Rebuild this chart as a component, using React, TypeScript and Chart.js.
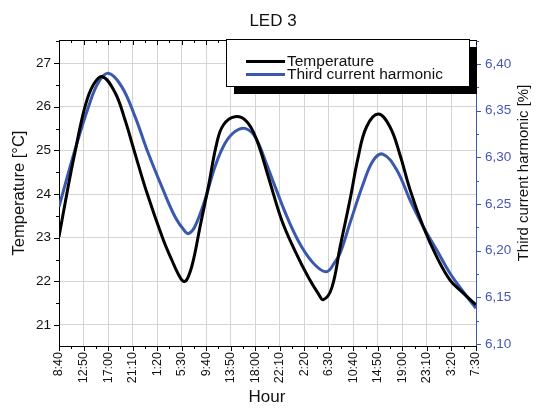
import React, { useEffect, useRef } from "react";
import { Chart, registerables } from "chart.js";

Chart.register(...registerables);

// ---- data ----
const hourLabels = [
  "8:40", "12:50", "17:00", "21:10", "1:20", "5:30", "9:40", "13:50", "18:00",
  "22:10", "2:20", "6:30", "10:40", "14:50", "19:00", "23:10", "3:20", "7:30",
];

// positions in units of the hour-label index (0 = 8:40, 17 = 7:30)
const tempX = [
  0, 0.35, 0.65, 1.06, 1.4, 1.77, 2.28, 2.69, 3.06, 3.57, 4.25, 4.59, 4.86,
  5.08, 5.25, 5.48, 5.75, 6.09, 6.43, 6.7, 7.17, 7.65, 8.06, 8.53, 9.08, 9.62,
  10.16, 10.57, 10.78, 11.12, 11.46, 11.86, 12.2, 12.54, 13.02, 13.49, 13.9,
  14.31, 14.85, 15.4, 15.94, 16.48, 17,
];
const tempY = [
  23.02, 24.1, 24.95, 26.0, 26.5, 26.69, 26.33, 25.7, 25.0, 24.05, 22.95, 22.5,
  22.17, 22.0, 22.08, 22.49, 23.25, 24.17, 25.16, 25.58, 25.77, 25.66, 25.24,
  24.4, 23.4, 22.7, 22.1, 21.72, 21.58, 21.85, 22.79, 23.86, 24.85, 25.54,
  25.83, 25.54, 24.9, 24.1, 23.25, 22.56, 22.03, 21.73, 21.46,
];

const harmX = [
  0, 0.65, 1.2, 1.6, 2.01, 2.55, 3.1, 3.64, 4.19, 4.73, 5.14, 5.3, 5.54, 5.95,
  6.36, 6.77, 7.17, 7.58, 7.99, 8.4, 8.81, 9.35, 9.89, 10.44, 10.91, 11.25,
  11.46, 11.86, 12.41, 12.82, 13.22, 13.77, 14.31, 14.85, 15.4, 15.94, 16.48, 17,
];
const harmY = [
  6.247, 6.308, 6.354, 6.38, 6.39, 6.376, 6.3436, 6.3043, 6.2686, 6.2364,
  6.2205, 6.2185, 6.2257, 6.2543, 6.29, 6.315, 6.3275, 6.331, 6.3221, 6.2971,
  6.2686, 6.2329, 6.2043, 6.1847, 6.1775, 6.188, 6.1972, 6.2293, 6.2722,
  6.2971, 6.3033, 6.2864, 6.2543, 6.2257, 6.2007, 6.1758, 6.156, 6.1383,
];

const seriesNames = ["Temperature", "Third current harmonic"];
const chartTitle = "LED 3";
const xTitle = "Hour";
const yLeftTitle = "Temperature [°C]";
const yRightTitle = "Third current harmonic [%]";

const BLUE_LINE = "#3a58ae";
const BLUE_TEXT = "#4656b4";
const FONT = "'Liberation Sans', Arial, sans-serif";

export default function App() {
  const ref = useRef<HTMLCanvasElement>(null);

  useEffect(() => {
    const canvas = ref.current;
    if (!canvas) return;

    const decor = {
      id: "decor",
      afterDraw(chart: any) {
        const ctx = chart.ctx as CanvasRenderingContext2D;
        const { left, right, top, bottom } = chart.chartArea;
        const xs = chart.scales.x;
        const yl = chart.scales.y;
        const yr = chart.scales.y1;
        const line = (x1: number, y1: number, x2: number, y2: number) => {
          ctx.beginPath();
          ctx.moveTo(x1, y1);
          ctx.lineTo(x2, y2);
          ctx.stroke();
        };
        ctx.save();
        ctx.lineWidth = 1;
        ctx.strokeStyle = "#000";
        // top frame
        line(left, top + 0.5, right, top + 0.5);
        // x ticks (bottom outward, top inward)
        for (let k = 0; k <= 34; k++) {
          const v = k / 2;
          const px = Math.round(xs.getPixelForValue(v)) + 0.5;
          const len = k % 2 === 0 ? 5 : 3;
          line(px, bottom, px, bottom + len);
          line(px, top, px, top + len);
        }
        // left ticks
        for (let k = 41; k <= 55; k++) {
          const v = k / 2;
          if (v < yl.min || v > yl.max) continue;
          const py = Math.round(yl.getPixelForValue(v)) + 0.5;
          const len = k % 2 === 0 ? 5 : 3;
          line(left - len, py, left, py);
        }
        // right ticks
        ctx.strokeStyle = BLUE_LINE;
        for (let k = 0; k <= 13; k++) {
          const v = 6.1 + k * 0.025;
          if (v < yr.min || v > yr.max) continue;
          const py = Math.round(yr.getPixelForValue(v)) + 0.5;
          const len = k % 2 === 0 ? 5 : 3;
          line(right, py, right + len, py);
        }

        // titles
        ctx.fillStyle = "#111";
        ctx.textAlign = "center";
        ctx.textBaseline = "middle";
        ctx.font = `17px ${FONT}`;
        ctx.fillText(chartTitle, 273, 21);
        ctx.font = `17px ${FONT}`;
        ctx.fillText(xTitle, 267, 397);
        ctx.save();
        ctx.translate(19, 193);
        ctx.rotate(-Math.PI / 2);
        ctx.font = `16.5px ${FONT}`;
        ctx.fillText(yLeftTitle, 0, 0);
        ctx.restore();
        ctx.save();
        ctx.translate(524, 173);
        ctx.rotate(-Math.PI / 2);
        ctx.font = `15px ${FONT}`;
        ctx.fillText(yRightTitle, 0, 0);
        ctx.restore();

        // legend with drop shadow
        const lx = 226, ly = 39, lw = 243, lh = 47;
        ctx.fillStyle = "#000";
        ctx.fillRect(lx + 8, ly + 8, lw, lh);
        ctx.fillStyle = "#fff";
        ctx.fillRect(lx, ly, lw, lh);
        ctx.strokeStyle = "#000";
        ctx.lineWidth = 1;
        ctx.strokeRect(lx + 0.5, ly + 0.5, lw, lh);
        const ds = chart.data.datasets;
        const rows = [61.5, 74.5];
        ctx.font = `15.5px ${FONT}`;
        ctx.textAlign = "left";
        ctx.textBaseline = "middle";
        rows.forEach((ry, i) => {
          ctx.strokeStyle = ds[i].borderColor;
          ctx.lineWidth = 3;
          line(246, ry, 285, ry);
          ctx.fillStyle = "#111";
          ctx.fillText(ds[i].label, 287, ry);
        });
        ctx.restore();
      },
    };

    const chart = new Chart(canvas, {
      type: "line",
      data: {
        datasets: [
          {
            label: seriesNames[0],
            data: tempX.map((x, i) => ({ x, y: tempY[i] })),
            borderColor: "#000",
            borderWidth: 3,
            pointRadius: 0,
            tension: 0.4,
            yAxisID: "y",
          },
          {
            label: seriesNames[1],
            data: harmX.map((x, i) => ({ x, y: harmY[i] })),
            borderColor: BLUE_LINE,
            borderWidth: 3,
            pointRadius: 0,
            tension: 0.4,
            yAxisID: "y1",
          },
        ],
      },
      options: {
        responsive: false,
        animation: false,
        layout: { padding: { top: 40, right: 0, left: 0, bottom: 0 } },
        plugins: {
          legend: { display: false },
          title: { display: false },
          tooltip: { enabled: false },
        },
        scales: {
          x: {
            type: "linear",
            min: 0,
            max: 17,
            afterFit: (s: any) => {
              s.height = 62;
            },
            ticks: {
              stepSize: 1,
              autoSkip: false,
              maxRotation: 90,
              minRotation: 90,
              padding: 6,
              color: "#111",
              font: { family: FONT, size: 12.5 },
              callback: (v: any) => hourLabels[Math.round(Number(v))] ?? "",
            },
            grid: { color: "#d4d4d4", drawTicks: false },
            border: { color: "#000", width: 1 },
          },
          y: {
            position: "left",
            min: 20.519,
            max: 27.527,
            afterFit: (s: any) => {
              s.width = 59;
            },
            ticks: {
              stepSize: 1,
              includeBounds: false,
              padding: 8,
              color: "#111",
              font: { family: FONT, size: 13.5 },
            },
            grid: { color: "#d4d4d4", drawTicks: false },
            border: { color: "#000", width: 1 },
          },
          y1: {
            position: "right",
            min: 6.0979,
            max: 6.4257,
            afterFit: (s: any) => {
              s.width = 60;
            },
            ticks: {
              stepSize: 0.05,
              includeBounds: false,
              padding: 9,
              color: BLUE_TEXT,
              font: { family: FONT, size: 13.5 },
              callback: (v: any) => Number(v).toFixed(2).replace(".", ","),
            },
            grid: { drawOnChartArea: false, drawTicks: false },
            border: { color: BLUE_LINE, width: 1 },
          },
        },
      },
      plugins: [decor],
    } as any);

    return () => {
      chart.destroy();
    };
  }, []);

  return (
    <div style={{ position: "absolute", left: 0, top: 0, width: 536, height: 408, background: "#fff" }}>
      <canvas ref={ref} width={536} height={408} />
    </div>
  );
}
